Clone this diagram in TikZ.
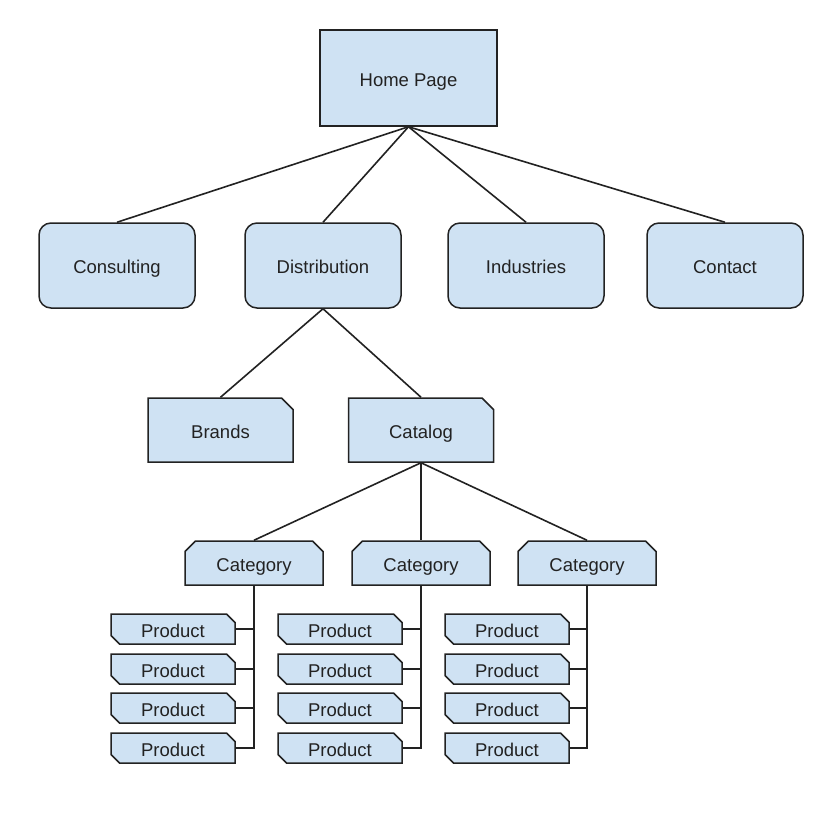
\documentclass[tikz,border=0pt]{standalone}
\usepackage{fontspec}
\setmainfont{Liberation Sans}
\usepackage{tikz}
\usetikzlibrary{shapes.misc}
\definecolor{PageBlue}{HTML}{CFE2F3}
\definecolor{Ink}{HTML}{222222}

\begin{document}
\begin{tikzpicture}[x=1pt,y=-1pt,
  box/.style={draw=Ink,line width=1.5pt,fill=PageBlue,text=Ink,font=\fontsize{18.5}{22}\selectfont,inner sep=0pt,text height=16pt,text depth=0pt},
  homepage/.style={box,minimum width=177pt,minimum height=96pt},
  section/.style={box,rounded corners=12pt,minimum width=156pt,minimum height=85pt},
  subpage/.style={box,chamfered rectangle,chamfered rectangle corners={north east},chamfered rectangle xsep=8pt,minimum width=145pt,minimum height=64pt},
  category/.style={box,chamfered rectangle,chamfered rectangle corners={north east,north west},chamfered rectangle xsep=7pt,minimum width=138pt,minimum height=44pt},
  product/.style={box,chamfered rectangle,chamfered rectangle corners={north east,south west},chamfered rectangle xsep=5pt,minimum width=124pt,minimum height=30pt},
  link/.style={draw=Ink,line width=1.6pt}
]
\useasboundingbox[fill=white] (0,0) rectangle (840,820);

\node[homepage] (home) at (408.5,78) {Home Page};
\node[section] (consulting) at (117,265.5) {Consulting};
\node[section] (distribution) at (323,265.5) {Distribution};
\node[section] (industries) at (526,265.5) {Industries};
\node[section] (contact) at (725,265.5) {Contact};
\foreach \s in {consulting,distribution,industries,contact} \draw[link] (home.south) -- (\s.north);

\node[subpage] (brands) at (220.5,430) {Brands};
\node[subpage] (catalog) at (421,430) {Catalog};
\draw[link] (distribution.south) -- (brands.north);
\draw[link] (distribution.south) -- (catalog.north);

\node[category] (cat1) at (254,563) {Category};
\node[category] (cat2) at (421,563) {Category};
\node[category] (cat3) at (587,563) {Category};
\foreach \c in {cat1,cat2,cat3} \draw[link] (catalog.south) -- (\c.north);

\foreach \c/\x in {1/173,2/340,3/507}
  \foreach \r/\y in {1/629,2/669,3/708,4/748} {
    \node[product] (p\c\r) at (\x,\y) {Product};
    \draw[link] (cat\c.south) |- (p\c\r.east);
  }
\end{tikzpicture}
\end{document}
